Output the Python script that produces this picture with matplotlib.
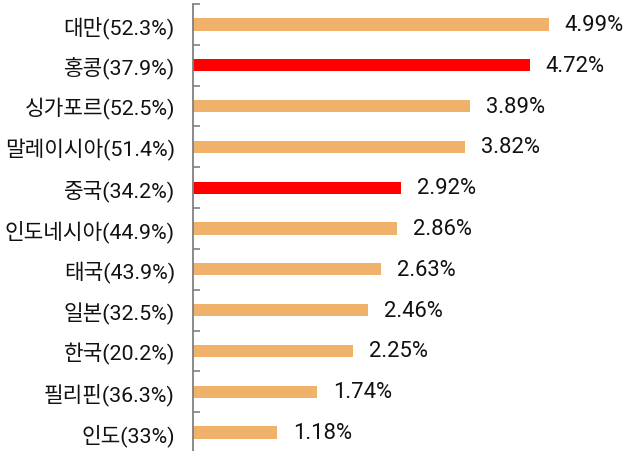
import numpy as np
import matplotlib.pyplot as plt
from matplotlib.ticker import FixedLocator

plt.rcParams['font.family'] = ['Roboto', 'Noto Sans CJK KR', 'DejaVu Sans']

labels = ['대만(52.3%)', '홍콩(37.9%)', '싱가포르(52.5%)', '말레이시아(51.4%)',
          '중국(34.2%)', '인도네시아(44.9%)', '태국(43.9%)', '일본(32.5%)',
          '한국(20.2%)', '필리핀(36.3%)', '인도(33%)']
values = [4.99, 4.72, 3.89, 3.82, 2.92, 2.86, 2.63, 2.46, 2.25, 1.74, 1.18]
highlight = ['홍콩(37.9%)', '중국(34.2%)']

fig = plt.figure(figsize=(6.28, 4.52), dpi=100)
ax = fig.add_axes([193 / 628, -2 / 452, 435 / 628, 449 / 452])

y = np.arange(len(labels))
colors = ['#ff0000' if l in highlight else '#f0b16a' for l in labels]
ax.barh(y, values, height=0.3, color=colors)

for yi, v in zip(y, values):
    ax.annotate(f'{v:.2f}%', (v, yi), xytext=(11.5, 0), textcoords='offset points',
                va='center', ha='left', fontsize=15.8, color='#111111')

ax.set_xlim(0, 6.1)
ax.set_ylim(len(labels) - 0.5, -0.5)
ax.set_yticks(y)
ax.set_yticklabels(labels, fontsize=15.4, color='#111111')
ax.tick_params(axis='y', which='major', length=0, pad=13)
ax.yaxis.set_minor_locator(FixedLocator(np.arange(-0.5, len(labels), 1)))
ax.tick_params(axis='y', which='minor', direction='in', length=5, color='#808080', width=1.2)
ax.set_xticks([])
for s in ['top', 'right', 'bottom']:
    ax.spines[s].set_visible(False)
ax.spines['left'].set_color('#808080')
ax.spines['left'].set_linewidth(1.3)

fig.savefig('out.png', dpi=100)
